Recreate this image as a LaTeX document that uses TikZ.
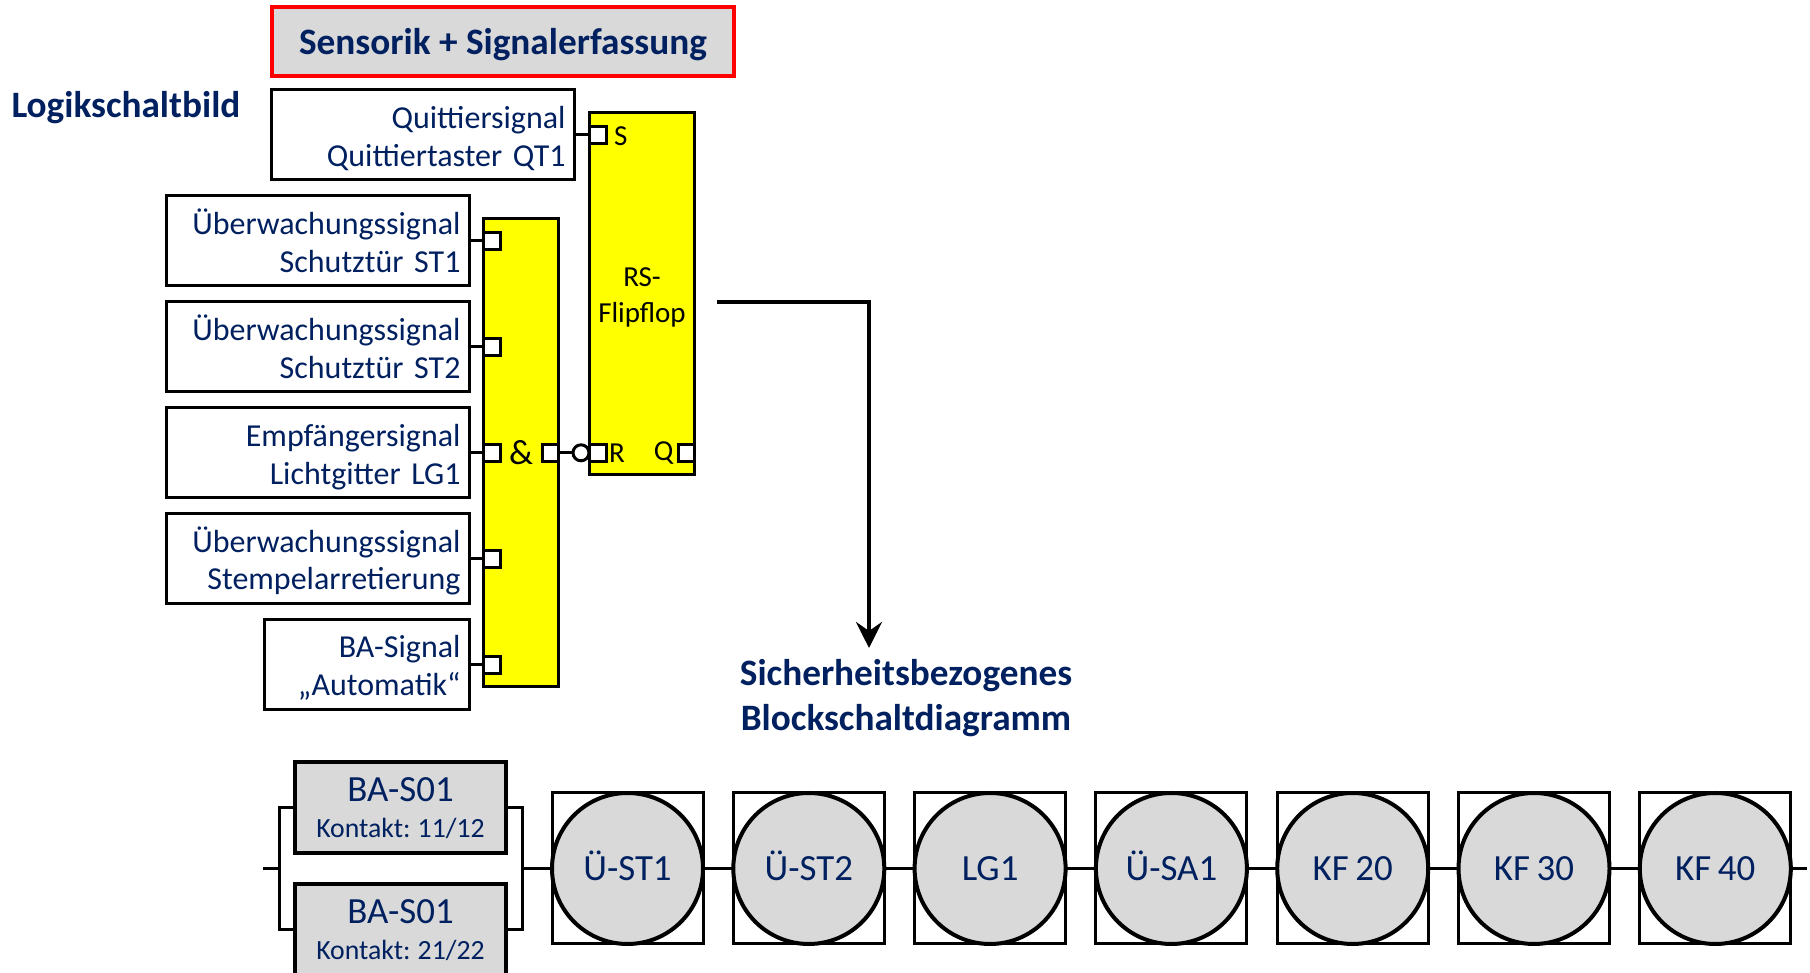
\documentclass[tikz,border=0pt]{standalone}
\usepackage{fontspec}
\setmainfont[WordSpace=0.8, BoldFeatures={WordSpace=1}]{Carlito}
\usetikzlibrary{positioning, arrows.meta}
\definecolor{textblue}{HTML}{002060}
\definecolor{boxgray}{HTML}{D9D9D9}
\definecolor{logicyellow}{HTML}{FFFF00}
\definecolor{signalred}{HTML}{FF0000}
\newcommand{\signalfont}{\fontsize{18.2}{21.6}\selectfont}
\newcommand{\titlefont}{\fontsize{21.2}{25.7}\selectfont\bfseries}
\newcommand{\logicfont}{\fontsize{16.5}{20.5}\selectfont}
\newcommand{\unitfont}{\fontsize{21}{21}\selectfont}
\newcommand{\smallfont}{\fontsize{15.8}{21}\selectfont}

\begin{document}
\begin{tikzpicture}[node distance=0.258cm, line width=0.06cm,
    signalbox/.style={draw, rectangle, fill=white, text=textblue, align=right, inner xsep=0.17cm, inner ysep=0.1cm, minimum height=1.8cm, text width=5.72cm, font=\signalfont, execute at begin node={\rule{0pt}{18.5pt}}, execute at end node={\rule[-4.5pt]{0pt}{4.5pt}}},
    logicblock/.style={draw, rectangle, fill=logicyellow, align=center, font=\logicfont},
    port/.style={draw, rectangle, fill=white, inner sep=0pt, minimum width=0.33cm, minimum height=0.34cm},
    portlabel/.style={inner sep=0pt, align=center, font=\logicfont},
    title/.style={inner sep=0pt, text=textblue, align=center, font=\titlefont},
    contact/.style={draw, rectangle, fill=boxgray, text=textblue, align=center, inner sep=0pt, text depth=0pt, line width=0.08cm, minimum width=4.22cm, minimum height=1.82cm, font=\unitfont, execute at begin node={\rule{0pt}{16.7pt}}},
    unitbox/.style={draw, rectangle, minimum width=3.02cm, minimum height=3.02cm},
    unit/.style={draw, circle, fill=boxgray, text=textblue, inner sep=0pt, minimum size=3.02cm, line width=0.08cm, font=\unitfont, execute at begin node={\rule[-6.8pt]{0pt}{26.8pt}}}]
    \useasboundingbox (0,0) rectangle (36.2,19.46);

    % Titles
    \node (sensorik) [title, draw=signalred, fill=boxgray, line width=0.08cm, text depth=0pt, minimum width=9.24cm, minimum height=1.38cm] at (10.06,18.63) {Sensorik + Signalerfassung};
    \node (logik) [title, anchor=west] at (0.2,17.3) {Logikschaltbild};
    \node (sicherheit) [title] at (18.12,5.5) {Sicherheitsbezogenes\\Blockschaltdiagramm};

    % Signal boxes
    \node (quit) [signalbox, anchor=east] at (11.51,16.76) {Quittiersignal\\Quittiertaster QT1};
    \node (st1) [signalbox, anchor=east] at (9.41,14.64) {Überwachungssignal\\Schutztür ST1};
    \node (st2) [signalbox, below=of st1] {Überwachungssignal\\Schutztür ST2};
    \node (lg1) [signalbox, below=of st2] {Empfängersignal\\Lichtgitter LG1};
    \node (sa1) [signalbox, below=of lg1] {Überwachungssignal\\Stempelarretierung};
    \node (auto) [signalbox, text width=3.76cm, below=of sa1.south east, anchor=north east] {BA-Signal\\„Automatik“};

    % Logic blocks
    \node (und) [logicblock, minimum width=1.5cm, minimum height=9.36cm, right=0.23cm of lg1] {};
    \node (rsff) [logicblock, minimum width=2.1cm, minimum height=7.24cm] at (12.84,13.58) {};
    \node (rsname) [portlabel, yshift=-0.07cm] at (rsff.center) {RS-\\Flipflop};
    \node (undsym) [portlabel, font=\fontsize{20}{24}\selectfont] at (und.center) {\&};

    % Ports
    \node (in1) [port, anchor=west] at (und.west |- st1) {};
    \node (in2) [port, anchor=west] at (und.west |- st2) {};
    \node (in3) [port, anchor=west] at (und.west |- lg1) {};
    \node (in4) [port, anchor=west] at (und.west |- sa1) {};
    \node (in5) [port, anchor=west] at (und.west |- auto) {};
    \node (undout) [port, anchor=east] at (und.east |- lg1) {};
    \node (invert) [draw, circle, fill=white, inner sep=0pt, minimum size=0.32cm, anchor=center] at (11.62,0 |- lg1) {};
    \node (setin) [port, anchor=west] at (rsff.west |- quit) {};
    \node (resetin) [port, anchor=west] at (rsff.west |- lg1) {};
    \node (qout) [port, anchor=east] at (rsff.east |- lg1) {};
    \node (slabel) [portlabel, right=0.1cm of setin, yshift=-0.02cm] {S};
    \node (rlabel) [portlabel, right=0cm of resetin] {R};
    \node (qlabel) [portlabel, left=0.03cm of qout] {Q};

    % Safety chain
    \node (ba1) [contact] at (8.01,3.31) {BA-S01\\{\smallfont Kontakt: 11/12}};
    \node (ba2) [contact, below=0.54cm of ba1] {BA-S01\\{\smallfont Kontakt: 21/22}};
    \node (ust1box) [unitbox] at (12.55,2.09) {};
    \node (ust2box) [unitbox, right=0.546cm of ust1box] {};
    \node (lg1box) [unitbox, right=0.546cm of ust2box] {};
    \node (usa1box) [unitbox, right=0.546cm of lg1box] {};
    \node (kf20box) [unitbox, right=0.546cm of usa1box] {};
    \node (kf30box) [unitbox, right=0.546cm of kf20box] {};
    \node (kf40box) [unitbox, right=0.546cm of kf30box] {};
    \node (ust1) [unit] at (ust1box) {Ü-ST1};
    \node (ust2) [unit] at (ust2box) {Ü-ST2};
    \node (lg1u) [unit] at (lg1box) {LG1};
    \node (usa1) [unit] at (usa1box) {Ü-SA1};
    \node (kf20) [unit] at (kf20box) {KF 20};
    \node (kf30) [unit] at (kf30box) {KF 30};
    \node (kf40) [unit] at (kf40box) {KF 40};

    \coordinate (flowstart) at (14.34,13.42);
    \coordinate (flowend) at (17.38,6.5);
    \coordinate (linein) at (5.26,2.09);
    \coordinate (busl) at (5.58,2.09);
    \coordinate (busr) at (10.44,2.09);
    \coordinate (lineout) at (36.14,2.09);

    % Connectors
    \draw (quit) -- (setin);
    \draw (st1) -- (in1);
    \draw (st2) -- (in2);
    \draw (lg1) -- (in3);
    \draw (sa1) -- (in4);
    \draw (auto.east |- in5) -- (in5);
    \draw (undout) -- (invert);
    \draw[-{Stealth[length=0.52cm, width=0.52cm, inset=0.18cm]}, line width=0.08cm] (flowstart) -| (flowend);
    \draw (linein) -- (busl);
    \draw (ba1) -| (busl) |- (ba2);
    \draw (ba1) -| (busr) |- (ba2);
    \draw (busr) -- (ust1box);
    \draw (ust1box) -- (ust2box);
    \draw (ust2box) -- (lg1box);
    \draw (lg1box) -- (usa1box);
    \draw (usa1box) -- (kf20box);
    \draw (kf20box) -- (kf30box);
    \draw (kf30box) -- (kf40box);
    \draw (kf40box) -- (lineout);
\end{tikzpicture}
\end{document}
